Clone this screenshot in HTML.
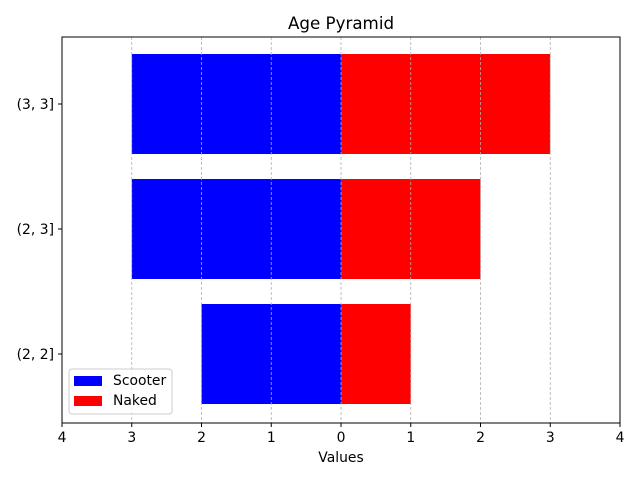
<!DOCTYPE html>
<html><head><meta charset="utf-8"><style>
html,body{margin:0;padding:0;background:#fff;}
svg{display:block;font-family:"DejaVu Sans","Liberation Sans",sans-serif;}
</style></head><body>
<svg id="chart" width="640" height="480" viewBox="0 0 640 480">
<rect width="640" height="480" fill="#fff"/>
<text x="341" y="29" font-size="16.7" text-anchor="middle">Age Pyramid</text>
<g id="bars"></g>
<g id="grid"></g>
<rect x="62" y="37" width="558" height="386" fill="none" stroke="#000" stroke-width="1"/>
<g id="xticks"></g>
<g id="yticks"></g>
<text x="341" y="462" font-size="13.9" text-anchor="middle">Values</text>
<g>
<rect x="69" y="369" width="103" height="45" rx="3" fill="#fff" fill-opacity="0.8" stroke="#ccc"/>
<rect x="74" y="376" width="28" height="10" fill="#0000ff"/>
<text x="113" y="385" font-size="13.9">Scooter</text>
<rect x="74" y="396" width="28" height="10" fill="#ff0000"/>
<text x="113" y="405" font-size="13.9">Naked</text>
</g>
</svg>
<script>
const categories = ["(2, 2]", "(2, 3]", "(3, 3]"];
const scooter = [2, 3, 3];
const naked = [1, 2, 3];
const xTicks = [-4, -3, -2, -1, 0, 1, 2, 3, 4];
const NS = "http://www.w3.org/2000/svg";
const L=62,R=620,T=37,B=423, xmin=-4,xmax=4, ymin=-0.552, ymax=2.536;
const xs = v => L + (v - xmin) / (xmax - xmin) * (R - L);
const ys = v => B - (v - ymin) / (ymax - ymin) * (B - T);
function mk(tag, attrs, parent){const e=document.createElementNS(NS,tag);for(const k in attrs)e.setAttribute(k,attrs[k]);parent.appendChild(e);return e;}
const bars=document.getElementById('bars');
categories.forEach((c,i)=>{
  const y0=ys(i+0.4), y1=ys(i-0.4);
  const s=mk('rect',{x:xs(-scooter[i]),y:y0,width:xs(0)-xs(-scooter[i]),height:y1-y0,fill:'#0000ff'},bars);
  
  
  const n=mk('rect',{x:xs(0),y:y0,width:xs(naked[i])-xs(0),height:y1-y0,fill:'#ff0000'},bars);
  
  
});
const grid=document.getElementById('grid'), xt=document.getElementById('xticks');
xTicks.forEach(v=>{
  const x=xs(v);
  const g=mk('line',{x1:x,x2:x,y1:T,y2:B,stroke:'#b0b0b0','stroke-width':0.8,'stroke-dasharray':'3,2'},grid);
  
  
  mk('line',{x1:x,x2:x,y1:B,y2:B+4,stroke:'#000'},xt);
  const t=mk('text',{x:x,y:B+19,'font-size':13.9,'text-anchor':'middle'},xt);
  t.textContent=Math.abs(v);
  
  
});
const yt=document.getElementById('yticks');
categories.forEach((c,i)=>{
  const y=ys(i);
  mk('line',{x1:L-4,x2:L,y1:y,y2:y,stroke:'#000'},yt);
  const t=mk('text',{x:L-8,y:y+5,'font-size':13.9,'text-anchor':'end'},yt);
  t.textContent=c;
  
  
});
</script>
</body></html>
